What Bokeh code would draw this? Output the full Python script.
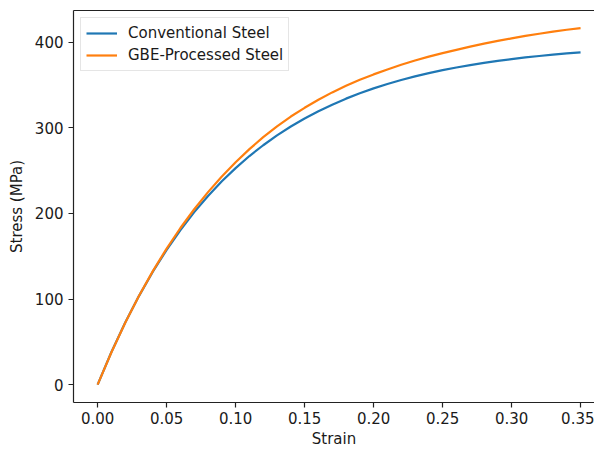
from bokeh.plotting import figure
from bokeh.models import Range1d, FixedTicker, NumeralTickFormatter, LinearAxis, Legend, LegendItem
from bokeh.embed import file_html
from bokeh.resources import INLINE

strain = [0.00, 0.01, 0.02, 0.03, 0.04, 0.05, 0.06, 0.07, 0.08, 0.09,
          0.10, 0.11, 0.12, 0.13, 0.14, 0.15, 0.16, 0.17, 0.18, 0.19,
          0.20, 0.21, 0.22, 0.23, 0.24, 0.25, 0.26, 0.27, 0.28, 0.29,
          0.30, 0.31, 0.32, 0.33, 0.34, 0.35]
conventional = [0.0, 38.1, 72.5, 103.7, 131.9, 157.4, 180.5, 201.4, 220.3, 237.4,
                252.8, 266.9, 279.5, 291.0, 301.4, 310.7, 319.2, 326.9, 333.9, 340.2,
                345.9, 351.0, 355.7, 359.9, 363.7, 367.2, 370.3, 373.1, 375.7, 378.0,
                380.1, 382.0, 383.7, 385.2, 386.7, 387.9]
gbe = [0.0, 37.8, 72.3, 103.8, 132.6, 158.9, 182.9, 204.8, 224.8, 243.1,
       259.7, 275.0, 288.9, 301.6, 313.0, 323.2, 332.6, 341.2, 349.0, 356.0,
       362.2, 368.0, 373.4, 378.4, 382.9, 387.0, 390.9, 394.6, 398.1, 401.3,
       404.3, 407.1, 409.7, 412.1, 414.3, 416.2]
x_ticks = [0.00, 0.05, 0.10, 0.15, 0.20, 0.25, 0.30, 0.35]
y_ticks = [0, 100, 200, 300, 400]
series_names = ["Conventional Steel", "GBE-Processed Steel"]

FONT = "DejaVu Sans"
TXT = "#1a1a1a"

p = figure(width=594, height=450, output_backend="svg", toolbar_location=None,
           x_range=Range1d(-0.0175, 0.3601), y_range=Range1d(-20.8, 436.8),
           min_border_left=73, min_border_right=0, min_border_top=10, min_border_bottom=45)
p.outline_line_color = None
p.xgrid.visible = False
p.ygrid.visible = False
p.background_fill_color = "white"
p.border_fill_color = "white"

r1 = p.line(strain, conventional, line_color="#1f77b4", line_width=2.2)
r2 = p.line(strain, gbe, line_color="#ff7f0e", line_width=2.2)

for ax in (p.xaxis[0], p.yaxis[0]):
    ax.axis_line_color = "#222222"
    ax.axis_line_width = 1.2
    ax.major_tick_line_color = "#222222"
    ax.major_tick_line_width = 1.2
    ax.major_tick_out = 5
    ax.major_tick_in = 0
    ax.minor_tick_line_color = None
    ax.major_label_text_font = FONT
    ax.major_label_text_font_size = "15px"
    ax.major_label_text_color = TXT
    ax.axis_label_text_font = FONT
    ax.axis_label_text_font_size = "15px"
    ax.axis_label_text_font_style = "normal"
    ax.axis_label_text_color = TXT

p.xaxis[0].ticker = FixedTicker(ticks=x_ticks)
p.xaxis[0].formatter = NumeralTickFormatter(format="0.00")
p.xaxis[0].axis_label = "Strain"
p.xaxis[0].major_label_standoff = 4
p.xaxis[0].axis_label_standoff = 3

p.yaxis[0].ticker = FixedTicker(ticks=y_ticks)
p.yaxis[0].axis_label = "Stress (MPa)"
p.yaxis[0].major_label_standoff = 5
p.yaxis[0].axis_label_standoff = 6

top = LinearAxis(ticker=FixedTicker(ticks=[]), major_label_text_font_size="0px",
                 axis_line_color="#222222", axis_line_width=1.2,
                 major_tick_line_color=None, minor_tick_line_color=None,
                 major_label_standoff=0)
p.add_layout(top, "above")

legend = Legend(items=[LegendItem(label=series_names[0], renderers=[r1]),
                       LegendItem(label=series_names[1], renderers=[r2])],
                location="top_left", margin=7, padding=5, spacing=2,
                glyph_height=20, glyph_width=31, label_standoff=11,
                label_text_font=FONT, label_text_font_size="15px", label_text_color=TXT,
                border_line_color="#cccccc", border_line_width=1,
                background_fill_color="white", background_fill_alpha=0.8)
p.add_layout(legend)

open("out.html", "w").write(file_html(p, INLINE))
